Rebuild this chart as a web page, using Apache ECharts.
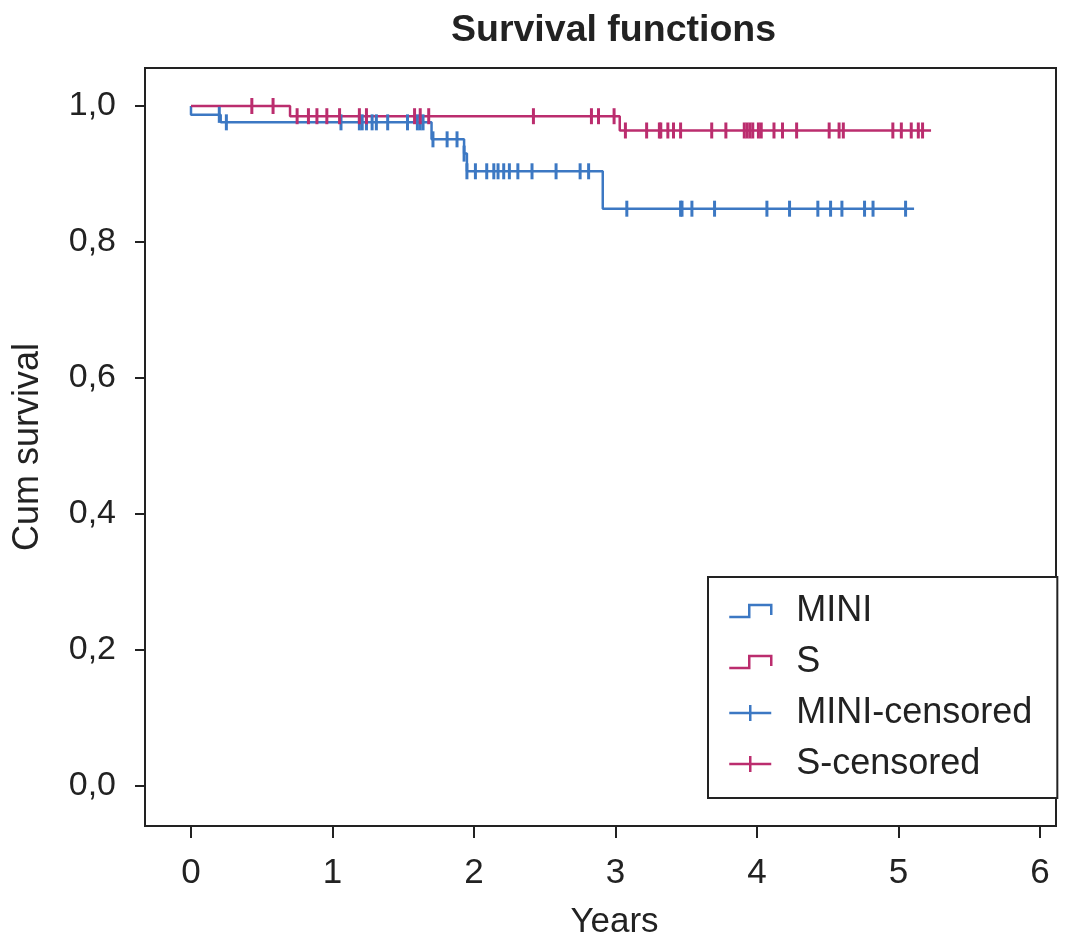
<!DOCTYPE html>
<html><head><meta charset="utf-8">
<script src="https://cdn.jsdelivr.net/npm/echarts@6/dist/echarts.min.js"></script>
<style>html,body{margin:0;padding:0;background:#fff}#c{width:1073px;height:937px}</style>
</head><body><div id="c"></div>
<script>
const xTicks = [0, 1, 2, 3, 4, 5, 6];
const yTicks = [0, 0.2, 0.4, 0.6, 0.8, 1.0];

// Kaplan-Meier step points (time, survival after event)
const miniStepT = [0, 0, 0.21, 1.70, 1.93, 1.95, 2.91, 5.11];
const miniStepS = [1.0, 0.987, 0.976, 0.951, 0.930, 0.904, 0.849, 0.849];
const sStepT = [0, 0.70, 3.03, 5.23];
const sStepS = [1.0, 0.985, 0.964, 0.964];

// censored observations
const miniCensT = [0.20, 0.25, 1.06, 1.19, 1.21, 1.24, 1.28, 1.31, 1.39, 1.53, 1.60, 1.62, 1.64,
  1.71, 1.81, 1.88, 1.93, 1.95, 2.01, 2.09, 2.14, 2.17, 2.21, 2.25, 2.31, 2.41, 2.58, 2.75, 2.81,
  3.08, 3.46, 3.47, 3.54, 3.70, 4.07, 4.23, 4.43, 4.52, 4.60, 4.76, 4.82, 5.05];
const miniCensS = [0.987, 0.976, 0.976, 0.976, 0.976, 0.976, 0.976, 0.976, 0.976, 0.976, 0.976, 0.976, 0.976,
  0.951, 0.951, 0.951, 0.930, 0.904, 0.904, 0.904, 0.904, 0.904, 0.904, 0.904, 0.904, 0.904, 0.904, 0.904, 0.904,
  0.849, 0.849, 0.849, 0.849, 0.849, 0.849, 0.849, 0.849, 0.849, 0.849, 0.849, 0.849, 0.849];
const sCensT = [0.43, 0.58, 0.75, 0.83, 0.89, 0.96, 1.05, 1.19, 1.24, 1.58, 1.62, 1.68, 2.42, 2.83, 2.88, 2.99,
  3.07, 3.22, 3.31, 3.32, 3.37, 3.41, 3.46, 3.68, 3.78, 3.91, 3.93, 3.95, 3.97, 4.01, 4.03, 4.12, 4.18, 4.28,
  4.51, 4.58, 4.61, 4.96, 5.02, 5.09, 5.14, 5.17];
const sCensS = [1.0, 1.0, 0.985, 0.985, 0.985, 0.985, 0.985, 0.985, 0.985, 0.985, 0.985, 0.985, 0.985, 0.985, 0.985, 0.985,
  0.964, 0.964, 0.964, 0.964, 0.964, 0.964, 0.964, 0.964, 0.964, 0.964, 0.964, 0.964, 0.964, 0.964, 0.964, 0.964, 0.964, 0.964,
  0.964, 0.964, 0.964, 0.964, 0.964, 0.964, 0.964, 0.964];

const BLUE = '#3c78c3';
const MAG = '#bb2d6e';
const AX = '#222';
const FONT = 'Liberation Sans';

const zip = (a, b) => a.map((v, i) => [v, b[i]]);
const stepIcon = 'path://M0,0 M62,16 M0,14 L20,14 L20,2 L42,2 L42,12';
const plusIcon = 'path://M0,0 M62,16 M0,8 L42,8 M21,0 L21,16';
const fmt = v => v.toFixed(1).replace('.', ',');

const chart = echarts.init(document.getElementById('c'), null, {renderer: 'canvas'});
chart.setOption({
  backgroundColor: '#fff',
  animation: false,
  title: {
    text: 'Survival functions', left: 451, top: 12, padding: 0,
    textStyle: {fontFamily: FONT, fontSize: 37.5, fontWeight: 'bold', color: '#222'}
  },
  grid: {left: 145, right: 17, top: 68, bottom: 111, show: true, borderColor: AX, borderWidth: 2,
         containLabel: false, outerBoundsMode: 'none'},
  xAxis: {
    type: 'value', min: -0.325, max: 6.113,
    name: 'Years', nameLocation: 'middle', nameGap: 79,
    nameTextStyle: {fontFamily: FONT, fontSize: 35, color: '#222', padding: [0, 0, 0, 28]},
    axisLine: {show: true, onZero: false, lineStyle: {color: AX, width: 2}},
    axisTick: {show: true, customValues: xTicks, length: 12, lineStyle: {color: AX, width: 2}},
    axisLabel: {customValues: xTicks, margin: 30, fontFamily: FONT, fontSize: 35, color: '#222'},
    splitLine: {show: false}
  },
  yAxis: {
    type: 'value', min: -0.0588, max: 1.0559,
    name: 'Cum survival', nameLocation: 'middle', nameGap: 99, nameRotate: 90,
    nameTextStyle: {fontFamily: FONT, fontSize: 36, color: '#222'},
    axisLine: {show: true, onZero: false, lineStyle: {color: AX, width: 2}},
    axisTick: {show: true, customValues: yTicks, length: 10, lineStyle: {color: AX, width: 2}},
    axisLabel: {customValues: yTicks, margin: 29, formatter: fmt, fontFamily: FONT, fontSize: 34, color: '#222'},
    splitLine: {show: false}
  },
  legend: {
    orient: 'vertical', left: 708, top: 577,
    padding: [14, 25, 14, 20], itemGap: 11, itemWidth: 62, itemHeight: 16,
    borderColor: AX, borderWidth: 2, backgroundColor: '#fff', borderRadius: 0,
    selectedMode: false,
    textStyle: {fontFamily: FONT, fontSize: 36, color: '#222', lineHeight: 40},
    data: [
      {name: 'MINI', icon: stepIcon, itemStyle: {color: 'transparent', borderColor: BLUE, borderWidth: 2.5}},
      {name: 'S', icon: stepIcon, itemStyle: {color: 'transparent', borderColor: MAG, borderWidth: 2.5}},
      {name: 'MINI-censored', icon: plusIcon, itemStyle: {color: 'transparent', borderColor: BLUE, borderWidth: 2.5}},
      {name: 'S-censored', icon: plusIcon, itemStyle: {color: 'transparent', borderColor: MAG, borderWidth: 2.5}}
    ]
  },
  series: [
    {name: 'MINI', type: 'line', step: 'end', showSymbol: false, data: zip(miniStepT, miniStepS),
     lineStyle: {color: BLUE, width: 2.5}, itemStyle: {color: BLUE}, z: 3},
    {name: 'S', type: 'line', step: 'end', showSymbol: false, data: zip(sStepT, sStepS),
     lineStyle: {color: MAG, width: 2.5}, itemStyle: {color: MAG}, z: 3},
    {name: 'MINI-censored', type: 'scatter', symbol: 'rect', symbolSize: [3, 16],
     data: zip(miniCensT, miniCensS), itemStyle: {color: BLUE, opacity: 1}, z: 4},
    {name: 'S-censored', type: 'scatter', symbol: 'rect', symbolSize: [3, 16],
     data: zip(sCensT, sCensS), itemStyle: {color: MAG, opacity: 1}, z: 4}
  ]
});
</script></body></html>
